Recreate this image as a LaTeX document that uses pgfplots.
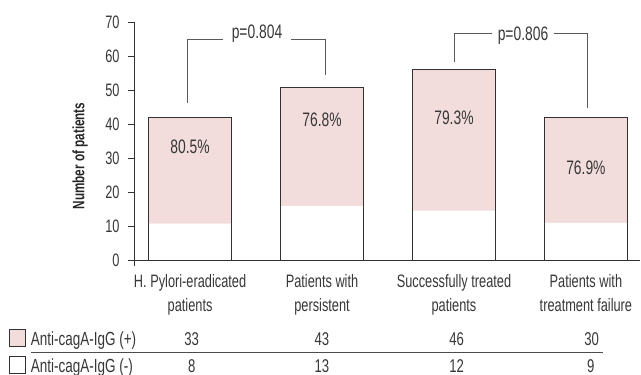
\documentclass[border=0pt]{standalone}
\usepackage{fontspec}
\setmainfont{Liberation Sans}[FakeStretch=0.71]
\usepackage{pgfplots}
\pgfplotsset{compat=1.18}
\definecolor{pinkfill}{RGB}{242,221,220}
\definecolor{edge}{RGB}{50,50,50}
\definecolor{txt}{RGB}{55,55,55}
\begin{document}
\begin{tikzpicture}[x=1pt,y=1pt]
\path[use as bounding box] (0,0) rectangle (641,375);
\begin{axis}[
 at={(134pt,114.3pt)}, anchor=south west,
 scale only axis, width=506pt, height=238.7pt,
 xmin=-0.425, xmax=3.41, ymin=0, ymax=70,
 axis lines=left, axis line style={-, draw=edge, line width=0.9pt},
 ybar, bar width=83pt,
 ytick={0,10,...,70},
 tick align=outside, major tick length=6pt,
 ytick style={draw=edge, line width=0.9pt},
 xtick={0,1,2,3}, xtick style={draw=none},
 xticklabels={{H. Pylori-eradicated\\patients},{Patients with\\persistent},{Successfully treated\\patients},{Patients with\\treatment failure}},
 xticklabel style={align=center, font=\fontsize{18}{24}\selectfont, text=txt, yshift=-4pt},
 yticklabel style={font=\fontsize{18}{20}\selectfont, text=txt, xshift=-5pt},
 /pgf/number format/assume math mode=true,
 clip=false,
]
% total bar (pink, positive part on top)
\addplot[bar shift=0pt, fill=pinkfill, draw=none] coordinates {(0,42.1) (1,50.8) (2,56.1) (3,42.1)};
% white (negative) part at the bottom
\addplot[bar shift=0pt, fill=white, draw=none] coordinates {(0,10.85) (1,16.1) (2,14.7) (3,11.1)};
% outline
\addplot[bar shift=0pt, fill=none, draw=edge, line width=0.9pt] coordinates {(0,42.1) (1,50.8) (2,56.1) (3,42.1)};
\node[font=\fontsize{19.5}{22}\selectfont, text=txt] at (axis cs:0,33.4) {80.5\%};
\node[font=\fontsize{19.5}{22}\selectfont, text=txt] at (axis cs:1,41.3) {76.8\%};
\node[font=\fontsize{19.5}{22}\selectfont, text=txt] at (axis cs:2,41.8) {79.3\%};
\node[font=\fontsize{19.5}{22}\selectfont, text=txt] at (axis cs:3,27.2) {76.9\%};
\end{axis}
% small tick below the origin
\draw[edge, line width=0.9pt] (134,114.3) -- (134,109);
% y label
\node[rotate=90, font=\bfseries\fontsize{16.5}{18}\selectfont, text=black!85] at (80,219) {Number of patients};
% brackets
\draw[black!65, line width=0.9pt] (187,272.3) -- (187,336) -- (223.3,336);
\draw[black!65, line width=0.9pt] (291,336) -- (325.7,336) -- (325.7,300);
\node[font=\fontsize{19.5}{22}\selectfont, text=txt] at (257,341) {p=0.804};
\draw[black!65, line width=0.9pt] (454,313.3) -- (454,341.3) -- (491.7,341.3);
\draw[black!65, line width=0.9pt] (554.3,341.3) -- (587,341.3) -- (587,267.3);
\node[font=\fontsize{19.5}{22}\selectfont, text=txt] at (523,339) {p=0.806};
% table
\draw[edge, line width=0.7pt, fill=pinkfill] (9,28.3) rectangle (25,46);
\draw[edge, line width=0.7pt, fill=white] (9,2) rectangle (25,18.3);
\draw[black!70, line width=0.9pt] (30.7,22.7) -- (603,22.7);
\node[anchor=base west, inner sep=0pt, font=\fontsize{19}{22}\selectfont, text=txt] at (30.7,29) {Anti-cagA-IgG (+)};
\node[anchor=base west, inner sep=0pt, font=\fontsize{19}{22}\selectfont, text=txt] at (30.7,2.5) {Anti-cagA-IgG (-)};
\foreach \x/\v in {191.7/33, 322/43, 456.7/46, 591.7/30}
  \node[anchor=base, inner sep=0pt, font=\fontsize{18.5}{22}\selectfont, text=txt] at (\x,29) {\v};
\foreach \x/\v in {191.7/8, 322/13, 456.7/12, 590.7/9}
  \node[anchor=base, inner sep=0pt, font=\fontsize{18.5}{22}\selectfont, text=txt] at (\x,2.5) {\v};
\end{tikzpicture}
\end{document}
